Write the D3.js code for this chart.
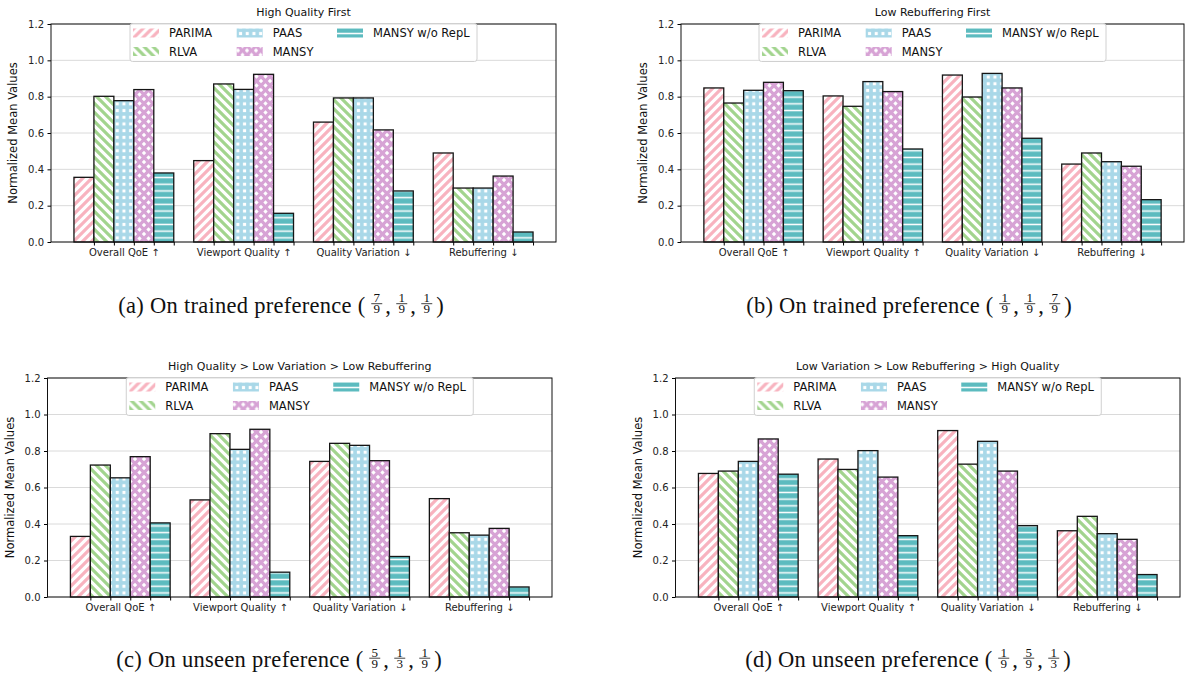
<!DOCTYPE html>
<html><head><meta charset="utf-8">
<script src="https://cdn.jsdelivr.net/npm/d3@7"></script>
<style>body{margin:0;background:#fff} svg{display:block}</style>
</head><body><svg id="c" width="1186" height="681"></svg>
<script>
const categories = ["Overall QoE ↑","Viewport Quality ↑","Quality Variation ↓","Rebuffering ↓"];
const methods = ["PARIMA","RLVA","PAAS","MANSY","MANSY w/o RepL"];
const yTicks = [0,0.2,0.4,0.6,0.8,1.0,1.2];
const titles = ["High Quality First","Low Rebuffering First","High Quality > Low Variation > Low Rebuffering","Low Variation > Low Rebuffering > High Quality"];
// rows follow methods, columns follow categories
const valuesA = [
 [0.356,0.448,0.660,0.490],
 [0.802,0.870,0.793,0.297],
 [0.778,0.840,0.793,0.297],
 [0.839,0.923,0.617,0.363],
 [0.380,0.158,0.281,0.055]];
const valuesB = [
 [0.848,0.804,0.919,0.429],
 [0.765,0.747,0.798,0.490],
 [0.835,0.883,0.928,0.442],
 [0.879,0.828,0.848,0.417],
 [0.833,0.512,0.571,0.233]];
const valuesC = [
 [0.332,0.532,0.743,0.539],
 [0.723,0.895,0.842,0.352],
 [0.653,0.809,0.831,0.339],
 [0.769,0.919,0.747,0.376],
 [0.406,0.136,0.222,0.055]];
const valuesD = [
 [0.677,0.756,0.912,0.363],
 [0.690,0.699,0.728,0.442],
 [0.743,0.802,0.853,0.347],
 [0.866,0.657,0.690,0.316],
 [0.673,0.336,0.391,0.123]];
const captionLabels = ["(a) On trained preference","(b) On trained preference","(c) On unseen preference","(d) On unseen preference"];
const captionFracs = [
 [["7","9"],["1","9"],["1","9"]],
 [["1","9"],["1","9"],["7","9"]],
 [["5","9"],["1","3"],["1","9"]],
 [["1","9"],["5","9"],["1","3"]]];

const palette = ["#f8b3bf","#a2d48e","#a9d8e8","#d7a3d5","#5cbbbf"];
const FONT = "DejaVu Sans, sans-serif";
const SERIF = "Liberation Serif, DejaVu Serif, serif";

const svg = d3.select("#c");
const defs = svg.append("defs");

function pat(id, w, h) {
  return defs.append("pattern").attr("id", id).attr("patternUnits","userSpaceOnUse")
    .attr("width", w).attr("height", h);
}
{
  const S = 9;
  let p = pat("h0", S, S);
  p.append("rect").attr("width",S).attr("height",S).attr("fill","#fff");
  p.append("path").attr("d",`M-2,2L2,-2M0,${S}L${S},0M${S-2},${S+2}L${S+2},${S-2}`).attr("stroke",palette[0]).attr("stroke-width",3.2);
  p = pat("h1", S, S);
  p.append("rect").attr("width",S).attr("height",S).attr("fill","#fff");
  p.append("path").attr("d",`M-2,${S-2}L2,${S+2}M0,0L${S},${S}M${S-2},-2L${S+2},2`).attr("stroke",palette[1]).attr("stroke-width",3.2);
  p = pat("h2", 6.7, 6.7);
  p.append("rect").attr("width",6.7).attr("height",6.7).attr("fill",palette[2]);
  p.append("rect").attr("x",1.8).attr("y",1.8).attr("width",3.1).attr("height",3.1).attr("fill","#fff");
  const P = 9, r = 2.2;
  p = pat("h3", P, P);
  p.append("rect").attr("width",P).attr("height",P).attr("fill",palette[3]);
  [[P/2,P/2],[0,0],[P,0],[0,P],[P,P]].forEach(([cx,cy]) => {
    p.append("path").attr("d",`M${cx-r},${cy}L${cx},${cy-r}L${cx+r},${cy}L${cx},${cy+r}Z`).attr("fill","#fff");
  });
  p = pat("h4", 6.7, 6.7);
  p.append("rect").attr("width",6.7).attr("height",6.7).attr("fill",palette[4]);
  p.append("rect").attr("y",2.6).attr("width",6.7).attr("height",1.5).attr("fill","#fff");
}

const panels = [
 {vals: valuesA, x0:51,   x1:556,  y0:24,  y1:242, cx:281, cy:312.5},
 {vals: valuesB, x0:681,  x1:1184, y0:24,  y1:242, cx:909, cy:312.5},
 {vals: valuesC, x0:47.5, x1:552,  y0:378, y1:597, cx:279, cy:667},
 {vals: valuesD, x0:675.5,x1:1180, y0:378, y1:597, cx:908, cy:667}
];

const bw = 1/6;
panels.forEach((pn, pi) => {
  const lo = -2.5*bw, hi = categories.length - 1 + 2.5*bw, R = hi - lo;
  const x = d3.scaleLinear().domain([lo - 0.05*R, hi + 0.05*R]).range([pn.x0, pn.x1]);
  const y = d3.scaleLinear().domain([0, 1.2]).range([pn.y1, pn.y0]);
  const g = svg.append("g");

  g.append("g").selectAll("line").data(yTicks).join("line")
    .attr("x1", pn.x0).attr("x2", pn.x1).attr("y1", d => y(d)).attr("y2", d => y(d))
    .attr("stroke", "#d6d6d6").attr("stroke-width", 0.9);

  const bars = [];
  pn.vals.forEach((row, k) => row.forEach((v, i) => bars.push({k, i, v})));
  g.append("g").selectAll("rect").data(bars).join("rect")
    .attr("x", d => x(d.i + (d.k - 2)*bw - bw/2))
    .attr("width", x(bw) - x(0))
    .attr("y", d => y(d.v))
    .attr("height", d => y(0) - y(d.v))
    .attr("fill", d => `url(#h${d.k})`)
    .attr("stroke", "#151515").attr("stroke-width", 1.3);

  const ya = g.append("g").attr("transform", `translate(${pn.x0},0)`)
    .call(d3.axisLeft(y).tickValues(yTicks).tickFormat(d3.format(".1f")).tickSize(3.5).tickPadding(3.5));
  ya.selectAll("text").attr("font-family", FONT).attr("font-size", 10).attr("fill", "#222");
  ya.select(".domain").remove();

  const edges = [];
  categories.forEach((c, i) => methods.forEach((m, k) => edges.push(i + (k - 2)*bw + bw/2)));
  const xt = g.append("g").attr("transform", `translate(0,${pn.y1})`)
    .call(d3.axisBottom(x).tickValues(edges).tickFormat("").tickSize(3.5));
  xt.select(".domain").remove();
  const xl = g.append("g").attr("transform", `translate(0,${pn.y1})`)
    .call(d3.axisBottom(x).tickValues(categories.map((c, i) => i)).tickFormat(i => categories[i]).tickSize(0).tickPadding(7));
  xl.select(".domain").remove();
  xl.selectAll("text").attr("font-family", FONT).attr("font-size", 10).attr("fill", "#222");

  g.append("rect").attr("x", pn.x0).attr("y", pn.y0).attr("width", pn.x1 - pn.x0).attr("height", pn.y1 - pn.y0)
    .attr("fill", "none").attr("stroke", "#111").attr("stroke-width", 1);

  g.append("text").attr("x", (pn.x0 + pn.x1)/2).attr("y", pn.y0 - 8).attr("text-anchor", "middle")
    .attr("font-family", FONT).attr("font-size", 11).attr("fill", "#111").text(titles[pi]);

  g.append("text").attr("transform", `translate(${pn.x0 - 38},${(pn.y0 + pn.y1)/2}) rotate(-90)`)
    .attr("text-anchor", "middle").attr("dominant-baseline", "central")
    .attr("font-family", FONT).attr("font-size", 11.5).attr("fill", "#111").text("Normalized Mean Values");

  const LW = 347, LH = 38;
  const lg = g.append("g").attr("transform", `translate(${(pn.x0 + pn.x1)/2 - LW/2},${pn.y0 - 0.5})`);
  lg.append("rect").attr("width", LW).attr("height", LH).attr("rx", 2.5)
    .attr("fill", "#fff").attr("fill-opacity", 0.85).attr("stroke", "#d0d0d0").attr("stroke-width", 1);
  const slots = [[3, 9.5], [3, 28], [106.7, 9.5], [106.7, 28], [207, 9.5]];
  methods.forEach((m, k) => {
    const [hx, ry] = slots[k];
    lg.append("rect").attr("x", hx).attr("y", ry - 4.5).attr("width", 26).attr("height", 9).attr("fill", `url(#h${k})`);
    lg.append("text").attr("x", hx + 36).attr("y", ry).attr("dominant-baseline", "central")
      .attr("font-family", FONT).attr("font-size", 11.5).attr("fill", "#111").text(m);
  });

  // caption with stacked fractions (each fraction is one text with two tspans)
  const cg = svg.append("g");
  cg.append("text").attr("x", 0).attr("y", 0).attr("font-family", SERIF).attr("font-size", 22.5)
    .attr("fill", "#111").attr("textLength", 247).attr("lengthAdjust", "spacing").text(captionLabels[pi] + " (");
  let cur = 247 + 6;
  captionFracs[pi].forEach((fr, j) => {
    const fw = 11;
    const ft = cg.append("text").attr("text-anchor", "middle")
      .attr("font-family", SERIF).attr("font-size", 13).attr("fill", "#111");
    ft.append("tspan").attr("x", cur + fw/2).attr("y", -10.3).text(fr[0]);
    ft.append("tspan").attr("x", cur + fw/2).attr("y", 0.8).text(fr[1]);
    cg.append("line").attr("x1", cur).attr("x2", cur + fw).attr("y1", -8.8).attr("y2", -8.8)
      .attr("stroke", "#111").attr("stroke-width", 0.8);
    cur += fw;
    if (j < captionFracs[pi].length - 1) {
      cg.append("text").attr("x", cur + 3).attr("y", 0).attr("font-family", SERIF)
        .attr("font-size", 22.5).attr("fill", "#111").text(",");
      cur += 14;
    } else {
      const cp = cg.append("text").attr("x", cur + 4).attr("y", 0).attr("font-family", SERIF)
        .attr("font-size", 22.5).attr("fill", "#111").text(")");
      cur += 4 + cp.node().getComputedTextLength();
    }
  });
  cg.attr("transform", `translate(${pn.cx - cur/2},${pn.cy})`);
});
</script>
</body></html>
